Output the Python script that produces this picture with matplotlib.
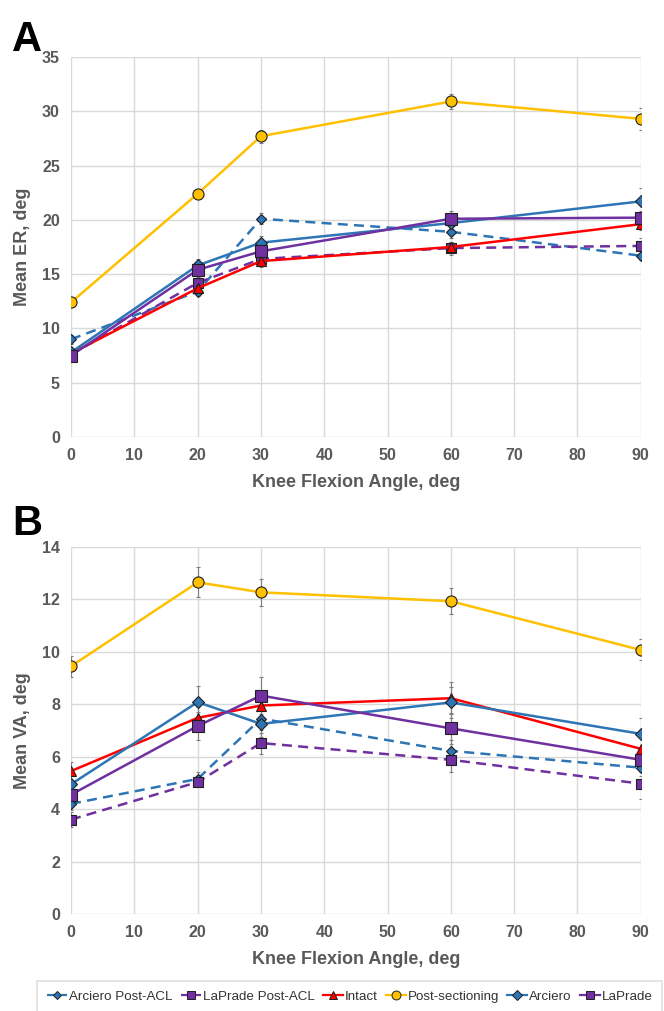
import matplotlib
matplotlib.use("Agg")
import matplotlib.pyplot as plt
from matplotlib.lines import Line2D

plt.rcParams['font.family'] = ['Liberation Sans', 'DejaVu Sans']

angles = [0, 20, 30, 60, 90]

# Panel A: Mean ER
er_arciero_post = [9.0, 13.4, 20.1, 18.9, 16.7]
er_arciero_post_err = [0.4, 0.4, 0.5, 0.6, 0.4]
er_laprade_post = [7.6, 14.2, 16.4, 17.4, 17.6]
er_laprade_post_err = [0.4, 0.5, 0.5, 0.6, 0.7]
er_intact = [7.7, 13.7, 16.2, 17.5, 19.6]
er_intact_err = [0.4, 0.4, 0.5, 0.5, 0.5]
er_post_sect = [12.4, 22.4, 27.7, 30.9, 29.3]
er_post_sect_err = [0.4, 0.3, 0.6, 0.7, 1.0]
er_arciero = [7.8, 15.8, 17.9, 19.7, 21.7]
er_arciero_err = [0.4, 0.6, 0.6, 0.6, 1.2]
er_laprade = [7.5, 15.4, 17.1, 20.1, 20.2]
er_laprade_err = [0.4, 0.5, 0.5, 0.7, 0.6]

# Panel B: Mean VA
va_arciero_post = [4.2, 5.15, 7.45, 6.22, 5.58]
va_arciero_post_err = [0.25, 0.25, 0.45, 0.4, 0.3]
va_laprade_post = [3.6, 5.03, 6.52, 5.88, 4.97]
va_laprade_post_err = [0.3, 0.2, 0.4, 0.45, 0.6]
va_intact = [5.45, 7.48, 7.95, 8.23, 6.3]
va_intact_err = [0.35, 0.45, 0.5, 0.6, 0.4]
va_post_sect = [9.45, 12.65, 12.27, 11.93, 10.07]
va_post_sect_err = [0.4, 0.57, 0.52, 0.5, 0.4]
va_arciero = [4.95, 8.08, 7.25, 8.07, 6.87]
va_arciero_err = [0.35, 0.6, 0.5, 0.6, 0.6]
va_laprade = [4.55, 7.17, 8.33, 7.08, 5.88]
va_laprade_err = [0.3, 0.55, 0.72, 0.6, 0.45]

labels = ["Arciero Post-ACL", "LaPrade Post-ACL", "Intact", "Post-sectioning", "Arciero", "LaPrade"]

BLUE = "#2E75B6"
PURPLE = "#7030A0"
RED = "#FF0000"
YELLOW = "#FFC000"

styles = [
    dict(color=BLUE, ls=(0, (4, 2.5)), marker="D", ms=5, mfc=BLUE),
    dict(color=PURPLE, ls=(0, (4, 2.5)), marker="s", ms=7, mfc=PURPLE),
    dict(color=RED, ls="-", marker="^", ms=7, mfc=RED),
    dict(color=YELLOW, ls="-", marker="o", ms=8, mfc=YELLOW),
    dict(color=BLUE, ls="-", marker="D", ms=6, mfc=BLUE),
    dict(color=PURPLE, ls="-", marker="s", ms=8, mfc=PURPLE),
]

GRAY = "#595959"

fig = plt.figure(figsize=(6.64, 10.11), dpi=100)
axA = fig.add_axes([0.107, 0.5677, 0.858, 0.376])
axB = fig.add_axes([0.107, 0.096, 0.858, 0.363])

def draw(ax, series, ylim, yticks):
    for (vals, errs), st in zip(series, styles):
        ax.errorbar(angles, vals, yerr=errs, color=st["color"], ls=st["ls"], lw=1.8,
                    marker=st["marker"], ms=st["ms"], mfc=st["mfc"], mec="#1F1F1F", mew=0.8,
                    ecolor="#7F7F7F", elinewidth=0.8, capsize=1.5, capthick=0.8, zorder=3)
    ax.set_xlim(0, 90)
    ax.set_ylim(*ylim)
    ax.set_xticks(range(0, 91, 10))
    ax.set_yticks(yticks)
    ax.grid(True, color="#D9D9D9", lw=1.0, zorder=0)
    ax.set_axisbelow(True)
    for s in ax.spines.values():
        s.set_visible(False)
    ax.tick_params(length=0, labelsize=11.5, labelcolor=GRAY, pad=8)
    for t in ax.get_xticklabels() + ax.get_yticklabels():
        t.set_fontweight("bold")
    ax.set_xlabel("Knee Flexion Angle, deg", fontsize=13, fontweight="bold", color=GRAY, labelpad=8)

draw(axA, [(er_arciero_post, er_arciero_post_err), (er_laprade_post, er_laprade_post_err),
           (er_intact, er_intact_err), (er_post_sect, er_post_sect_err),
           (er_arciero, er_arciero_err), (er_laprade, er_laprade_err)],
     (0, 35), range(0, 36, 5))
axA.set_ylabel("Mean ER, deg", fontsize=13, fontweight="bold", color=GRAY, labelpad=8)

draw(axB, [(va_arciero_post, va_arciero_post_err), (va_laprade_post, va_laprade_post_err),
           (va_intact, va_intact_err), (va_post_sect, va_post_sect_err),
           (va_arciero, va_arciero_err), (va_laprade, va_laprade_err)],
     (0, 14), range(0, 15, 2))
axB.set_ylabel("Mean VA, deg", fontsize=13, fontweight="bold", color=GRAY, labelpad=8)

fig.text(0.018, 0.96, "A", fontsize=30, fontweight="bold", color="black", va="center")
fig.text(0.018, 0.482, "B", fontsize=30, fontweight="bold", color="black", va="center")

handles = [Line2D([0], [0], color=st["color"], ls=st["ls"], lw=1.6, marker=st["marker"],
                  ms=st["ms"] * 0.8, mfc=st["mfc"], mec="#1F1F1F", mew=0.7) for st in styles]
leg = fig.legend(handles, labels, loc="lower center", bbox_to_anchor=(0.527, -0.002),
                 ncol=6, frameon=True, fontsize=9.6, handlelength=1.5, handletextpad=0.15,
                 columnspacing=0.6, borderpad=0.75, borderaxespad=0.0, fancybox=False)
leg.get_frame().set_edgecolor("#D9D9D9")
leg.get_frame().set_linewidth(1.2)
for t in leg.get_texts():
    t.set_color("#333333")

fig.savefig("out.png", dpi=100)
